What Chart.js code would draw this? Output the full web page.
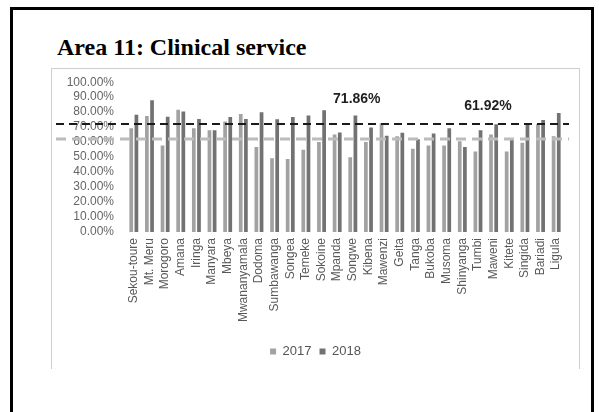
<!DOCTYPE html>
<html>
<head>
<meta charset="utf-8">
<script src="https://cdn.jsdelivr.net/npm/chart.js@4/dist/chart.umd.min.js"></script>
<style>
  body { margin: 0; background: #fff; }
  .slide {
    position: absolute; left: 10px; top: 7px;
    width: 578px; height: 420px;
    border: 3px solid #000; border-bottom: none;
  }
  .title {
    position: absolute; left: 57px; top: 35px;
    font: bold 24px "Liberation Serif", "Times New Roman", serif;
    line-height: 24px; color: #000; white-space: nowrap;
  }
  .chart-box {
    position: absolute; left: 51px; top: 68px;
    width: 527px; height: 300px;
    border: 1px solid #cfcfcf; border-bottom: none;
    background: #fff;
  }
  #clinical { position: absolute; left: 0; top: -6px; }
</style>
</head>
<body>
<div class="slide"></div>
<div class="title">Area 11: Clinical service</div>
<div class="chart-box">
  <canvas id="clinical" width="527" height="305"></canvas>
</div>

<script>
const hospitals = ['Sekou-toure', 'Mt. Meru', 'Morogoro', 'Amana', 'Iringa', 'Manyara', 'Mbeya',
  'Mwananyamala', 'Dodoma', 'Sumbawanga', 'Songea', 'Temeke', 'Sokoine', 'Mpanda', 'Songwe',
  'Kibena', 'Mawenzi', 'Geita', 'Tanga', 'Bukoba', 'Musoma', 'Shinyanga', 'Tumbi', 'Maweni',
  'Kitete', 'Singida', 'Bariadi', 'Ligula'];

const scores2017 = [69.2, 77.5, 57.8, 81.6, 69.2, 68.0, 73.7, 78.7, 56.7, 49.2, 48.8, 54.9, 60.0, 65.1,
  49.9, 60.0, 72.6, 64.0, 55.6, 57.8, 57.8, 60.5, 53.7, 65.1, 53.7, 59.6, 71.9, 63.9];
const scores2018 = [78.2, 88.0, 77.0, 80.5, 75.5, 68.0, 76.7, 75.5, 80.0, 75.3, 76.7, 77.8, 81.2, 66.4,
  77.8, 69.8, 64.2, 66.2, 61.9, 65.8, 69.2, 56.7, 68.0, 71.9, 62.8, 72.6, 74.8, 79.4];

const average2018 = 71.86;
const average2017 = 61.92;

const yTicks = [0, 10, 20, 30, 40, 50, 60, 70, 80, 90, 100];

// dashed average lines plus their value labels, drawn over the bars
const averageLines = {
  id: 'averageLines',
  afterDatasetsDraw(chart) {
    const { ctx, chartArea, scales: { x, y } } = chart;
    const lines = [
      { value: average2017, color: '#bcbcbc', width: 3, dash: [10, 6] },
      { value: average2018, color: '#1a1a1a', width: 2, dash: [8, 5] },
    ];
    ctx.save();
    lines.forEach((l) => {
      const py = Math.round(y.getPixelForValue(l.value));
      ctx.strokeStyle = l.color;
      ctx.lineWidth = l.width;
      ctx.setLineDash(l.dash);
      ctx.beginPath();
      ctx.moveTo(4, py);
      ctx.lineTo(chartArea.right + 5, py);
      ctx.stroke();
    });
    ctx.setLineDash([]);
    ctx.fillStyle = '#1f1f1f';
    ctx.font = 'bold 14px "Liberation Sans", Arial, sans-serif';
    ctx.textAlign = 'center';
    ctx.textBaseline = 'middle';
    ctx.fillText(average2018.toFixed(2) + '%', x.getPixelForValue(14) + 4, y.getPixelForValue(88.5));
    ctx.fillText(average2017.toFixed(2) + '%', x.getPixelForValue(22) + 10, y.getPixelForValue(84.3));
    ctx.restore();
  }
};

const ctx = document.getElementById('clinical').getContext('2d');

new Chart(ctx, {
  type: 'bar',
  data: {
    labels: hospitals,
    datasets: [{
      label: '2017',
      data: scores2017,
      backgroundColor: '#a2a2a2',
      categoryPercentage: 0.66,
      barPercentage: 0.72
    }, {
      label: '2018',
      data: scores2018,
      backgroundColor: '#727272',
      categoryPercentage: 0.66,
      barPercentage: 0.72
    }]
  },
  options: {
    responsive: false,
    animation: false,
    layout: { padding: { top: 7, right: 0, left: 0, bottom: 0 } },
    plugins: {
      tooltip: { enabled: false },
      legend: {
        position: 'bottom',
        labels: {
          boxWidth: 6,
          boxHeight: 6,
          padding: 8,
          color: '#555',
          font: { family: '"Liberation Sans", Arial, sans-serif', size: 13 }
        }
      }
    },
    scales: {
      y: {
        min: 0,
        max: 100,
        afterBuildTicks: (scale) => {
          scale.ticks = yTicks.map((v) => ({ value: v }));
        },
        afterFit: (scale) => { scale.width = 74; },
        grid: { display: false, drawTicks: false },
        border: { display: false },
        ticks: {
          autoSkip: false,
          padding: 12,
          color: '#666',
          font: { family: '"Liberation Sans", Arial, sans-serif', size: 12 },
          callback: (v) => v.toFixed(2) + '%'
        }
      },
      // empty right-hand strip, so the legend still centres on the whole box
      spacer: {
        type: 'linear',
        position: 'right',
        afterFit: (scale) => { scale.width = 15; },
        grid: { display: false, drawTicks: false },
        border: { display: false },
        ticks: { display: false }
      },
      x: {
        afterFit: (scale) => { scale.height = 105; },
        grid: { display: false, drawTicks: false },
        border: { display: false },
        ticks: {
          autoSkip: false,
          maxRotation: 90,
          minRotation: 90,
          padding: 6,
          color: '#595959',
          font: { family: '"Liberation Sans", Arial, sans-serif', size: 12 }
        }
      }
    }
  },
  plugins: [averageLines]
});
</script>
</body>
</html>
